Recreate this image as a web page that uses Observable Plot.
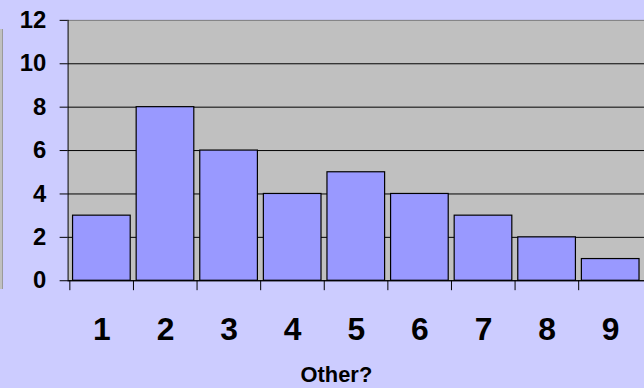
<!DOCTYPE html>
<html>
<head>
<meta charset="utf-8">
<script src="https://cdn.jsdelivr.net/npm/d3@7"></script>
<script src="https://cdn.jsdelivr.net/npm/@observablehq/plot@0.6"></script>
<style>
  html, body { margin: 0; padding: 0; background: #ccccff; overflow: hidden; }
  #wrap { position: relative; width: 644px; height: 388px; overflow: hidden; background: #ccccff; }
  #edge { position: absolute; left: 0; top: 29px; width: 2px; height: 260px; background: #c0c0c0; border-right: 1px solid #9a9a9a; }
  svg { display: block; }
</style>
</head>
<body>
<div id="wrap"><div id="edge"></div></div>
<script>
const categories = ["1", "2", "3", "4", "5", "6", "7", "8", "9"];
const values = [3, 8, 6, 4, 5, 4, 3, 2, 1];
const yTicks = [0, 2, 4, 6, 8, 10, 12];
const xTitle = "Other?";

const data = categories.map((c, i) => ({cat: c, value: values[i]}));

const W = 648, H = 388;
const mL = 68, mR = 0, mT = 20, mB = 106;
const step = (W - mL - mR) / categories.length;
const font = "'Liberation Sans', Arial, sans-serif";

const chart = Plot.plot({
  width: W,
  height: H,
  marginLeft: mL,
  marginRight: mR,
  marginTop: mT,
  marginBottom: mB,
  style: {background: "transparent", fontFamily: font, color: "black", overflow: "visible"},
  x: {type: "band", domain: categories, padding: 0},
  y: {domain: [0, 12]},
  marks: [
    Plot.frame({fill: "#c0c0c0", stroke: "none"}),
    Plot.ruleY(yTicks.filter(d => d < 12), {stroke: "black", strokeWidth: 1}),
    Plot.frame({anchor: "top", stroke: "#7a7a7a"}),
    Plot.barY(data, {x: "cat", y: "value", fill: "#9999ff", stroke: "black", strokeWidth: 1.2, insetLeft: 3, insetRight: 3}),
    Plot.frame({anchor: "left", stroke: "black"}),
    Plot.ruleY([0], {stroke: "black"}),
    Plot.ruleX(categories, {x: d => d, y1: d => 0, y2: d => 0, insetBottom: -10, dx: -step / 2, stroke: "black"}),
    Plot.axisY({ticks: yTicks, tickSize: 8, tickPadding: 14, fontSize: 24, fontWeight: "bold", tickFormat: d => String(d), label: null, stroke: "black"}),
    Plot.axisX({tickSize: 0, tickPadding: 37, fontSize: 32, fontWeight: "bold", label: null}),
    Plot.text([xTitle], {text: d => d, frameAnchor: "bottom", dy: 95, dx: -20, lineAnchor: "middle", fontSize: 22, fontWeight: "bold", fill: "black"})
  ]
});
document.getElementById("wrap").appendChild(chart);
</script>
</body>
</html>
